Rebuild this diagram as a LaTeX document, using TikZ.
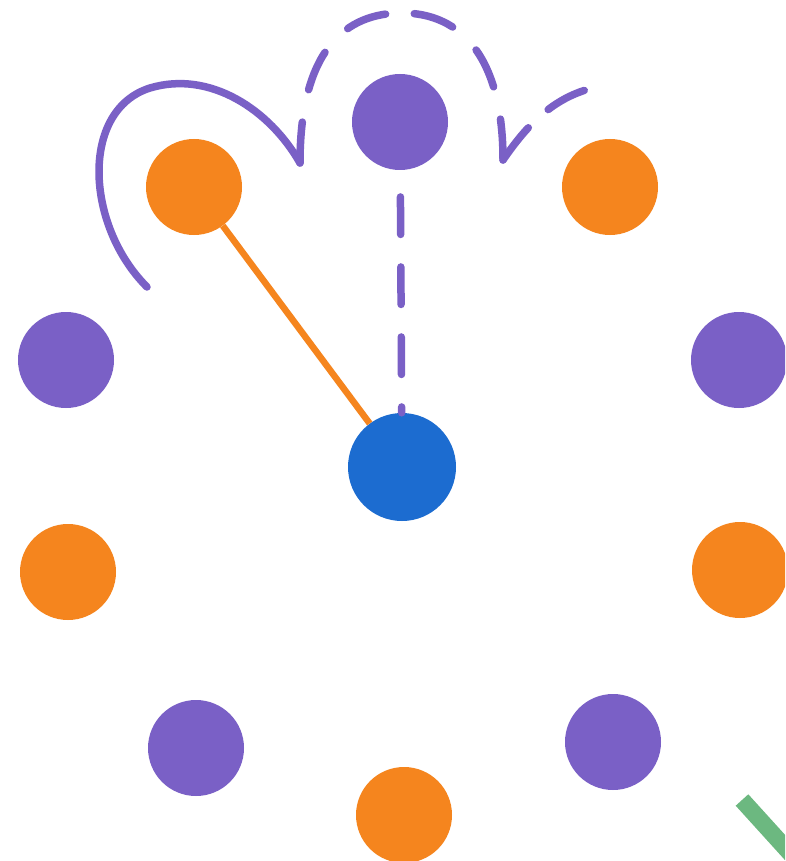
\documentclass[tikz,border=0pt]{standalone}
\begin{document}
\begin{tikzpicture}[x=1pt,y=-1pt]
\definecolor{cpurple}{RGB}{122,96,198}
\definecolor{corange}{RGB}{245,133,30}
\definecolor{cblue}{RGB}{28,108,208}
\definecolor{cgreen}{RGB}{108,184,128}
\tikzset{
  dot/.style={circle,inner sep=0pt,minimum size=96pt,fill=#1},
  pline/.style={draw=cpurple,line width=7.5pt,line cap=round},
  arcdash/.style={dash pattern=on 41pt off 33pt},
  oline/.style={draw=corange,line width=6.5pt},
  gline/.style={draw=cgreen,line width=17pt}
}
\clip (0,0) rectangle (785,861);
\fill[white] (0,0) rectangle (785,861);
% dots
\node[dot=cpurple] (P1) at (400,122) {};
\node[dot=corange] (O1) at (194,187) {};
\node[dot=corange] (O2) at (610,187) {};
\node[dot=cpurple] (P2) at (66,360) {};
\node[dot=cpurple] (P3) at (739,360) {};
\node[dot=cblue,minimum size=108pt] (B) at (402,467) {};
\node[dot=corange] (O3) at (68,572) {};
\node[dot=corange] (O4) at (740,570) {};
\node[dot=cpurple] (P4) at (196,748) {};
\node[dot=cpurple] (P5) at (613,742) {};
\node[dot=corange] (O5) at (404,815) {};
% connectors
\draw[oline] (O1) -- (B);
\draw[pline,dash pattern=on 37.5pt off 32.5pt,dash phase=43.25pt] (P1) -- (B);
\coordinate (sA) at (147,287);
\coordinate (tL) at (300,163);
\coordinate (top) at (400,13);
\coordinate (tR) at (503,160);
\coordinate (eR) at (589,89);
\coordinate (gS) at (742,800);
\coordinate (gE) at (800,864);
\draw[pline] (sA) .. controls (85,225) and (80,110) .. (150,88)
             .. controls (210,70) and (270,110) .. (tL);
\draw[pline,arcdash] (tL) .. controls (300,60) and (338,14) .. (top);
\draw[pline,arcdash] (tR) .. controls (503,60) and (463,12) .. (top);
\draw[pline,dash pattern=on 41pt off 27pt] (tR) .. controls (525,128) and (550,100) .. (eR);
\draw[gline] (gS) -- (gE);
\end{tikzpicture}
\end{document}
